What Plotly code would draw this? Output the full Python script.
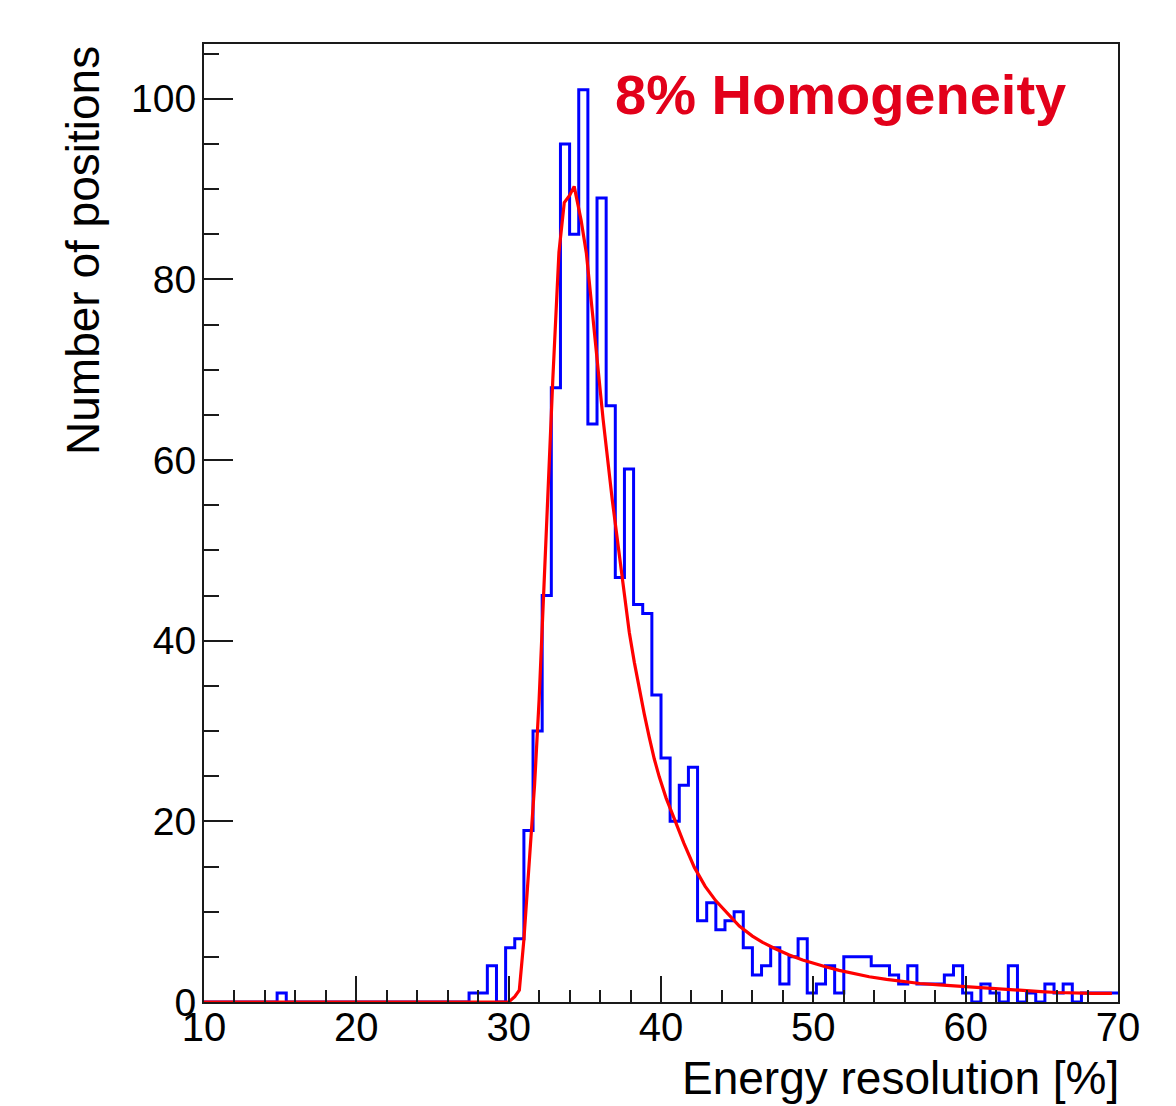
import numpy as np
import plotly.graph_objects as go

# ---------------- data ----------------
BIN_LOW = 10.0
BIN_WIDTH = 0.6
counts = [
    0, 0, 0, 0, 0, 0, 0, 0, 1, 0,          # 10.0 - 16.0
    0, 0, 0, 0, 0, 0, 0, 0, 0, 0,          # 16.0 - 22.0
    0, 0, 0, 0, 0, 0, 0, 0, 0, 1,          # 22.0 - 28.0
    1, 4, 0, 6, 7, 19, 30, 45, 68, 95,     # 28.0 - 34.0
    85, 101, 64, 89, 66, 47, 59, 44, 43, 34,  # 34.0 - 40.0
    27, 20, 24, 26, 9, 11, 8, 9, 10, 6,    # 40.0 - 46.0
    3, 4, 6, 2, 5, 7, 1, 2, 4, 1,          # 46.0 - 52.0
    5, 5, 5, 4, 4, 3, 2, 4, 2, 2,          # 52.0 - 58.0
    2, 3, 4, 1, 0, 2, 1, 0, 4, 0,          # 58.0 - 64.0
    1, 0, 2, 1, 2, 0, 1, 1, 1, 1,          # 64.0 - 70.0
]

fit_x = [10.0, 30.0, 30.4, 30.7, 31.0, 31.35, 31.7, 32.0, 32.35, 32.7,
         32.9, 33.3, 33.65, 34.0, 34.3, 34.75, 35.1, 35.5, 35.95, 36.2,
         36.8, 37.27, 37.6, 37.92, 38.25, 38.58, 38.9, 39.23, 39.56, 39.89,
         40.33, 40.87, 41.5, 42.19, 42.9, 43.6, 44.3, 45.14, 46.0, 46.67,
         47.5, 48.42, 49.3, 49.95, 50.8, 51.7, 52.7, 53.67, 54.8, 56.0,
         57.0, 58.26, 59.5, 60.9, 62.0, 62.74, 64.0, 64.93, 66.0, 67.1,
         68.3, 69.6]
fit_y = [0.0, 0.0, 0.6, 1.3, 6.9, 15.0, 24.0, 33.5, 47.5, 62.0,
         69.0, 83.0, 88.5, 89.3, 90.3, 86.6, 82.9, 76.3, 68.9, 64.5,
         55.6, 49.2, 44.8, 40.9, 37.6, 34.6, 31.9, 29.3, 26.9, 24.9,
         22.6, 20.3, 17.6, 14.9, 12.8, 11.2, 9.9, 8.4, 7.3, 6.6,
         5.9, 5.2, 4.65, 4.3, 3.9, 3.5, 3.1, 2.8, 2.5, 2.25,
         2.05, 1.9, 1.75, 1.6, 1.45, 1.33, 1.22, 1.15, 1.05, 0.98,
         0.96, 0.95]

x_ticks = [10, 20, 30, 40, 50, 60, 70]
y_ticks = [0, 20, 40, 60, 80, 100]

title_text = "8% Homogeneity"
x_title = "Energy resolution [%]"
y_title = "Number of positions"

# ---------------- figure ----------------
edges = BIN_LOW + BIN_WIDTH * np.arange(len(counts) + 1)
step_y = list(counts) + [counts[-1]]

FONT = "Liberation Sans, Arial, Helvetica, sans-serif"
AXIS_COLOR = "#1a1a1a"

fig = go.Figure()
fig.add_trace(go.Scatter(
    x=edges, y=step_y, mode="lines", line_shape="hv",
    line=dict(color="#0000ff", width=3), hoverinfo="skip", showlegend=False,
))
fig.add_trace(go.Scatter(
    x=fit_x, y=fit_y, mode="lines",
    line=dict(color="#ff0000", width=3.2), hoverinfo="skip", showlegend=False,
))

# the page body adds an 8px offset, so the figure is sized to fit the window
fig.update_layout(
    width=1168, height=1098,
    margin=dict(l=196, r=58, t=36, b=104, pad=0),
    paper_bgcolor="white", plot_bgcolor="white",
    font=dict(family=FONT, color="black"),
    showlegend=False,
)

fig.update_xaxes(
    range=[10, 70], tickvals=x_ticks, ticktext=[str(v) for v in x_ticks],
    showgrid=False, zeroline=False,
    showline=True, linecolor=AXIS_COLOR, linewidth=2, mirror=True,
    ticks="inside", ticklen=26, tickwidth=2, tickcolor=AXIS_COLOR,
    minor=dict(dtick=2, tick0=10, ticks="inside", ticklen=12, tickwidth=2,
               tickcolor=AXIS_COLOR, showgrid=False),
    tickfont=dict(size=40, family=FONT, color="black"),
    ticklabelstandoff=-11,
)
fig.update_yaxes(
    range=[0, 106.06], tickvals=y_ticks, ticktext=[str(v) for v in y_ticks],
    showgrid=False, zeroline=False,
    showline=True, linecolor=AXIS_COLOR, linewidth=2, mirror=True,
    ticks="inside", ticklen=29, tickwidth=2, tickcolor=AXIS_COLOR,
    minor=dict(dtick=5, tick0=0, ticks="inside", ticklen=15, tickwidth=2,
               tickcolor=AXIS_COLOR, showgrid=False),
    tickfont=dict(size=39, family=FONT, color="black"),
    ticklabelstandoff=-2,
)

# chart title (red, bold, in the top right of the frame)
fig.add_annotation(
    text="<b>" + title_text + "</b>", xref="paper", yref="paper",
    x=0.448, y=0.947, xanchor="left", yanchor="middle", showarrow=False,
    font=dict(size=56, family=FONT, color="#e2001a"),
)
# x axis title, right aligned
fig.add_annotation(
    text=x_title, xref="paper", yref="paper",
    x=1.003, y=-0.079, xanchor="right", yanchor="middle", showarrow=False,
    font=dict(size=46, family=FONT, color="black"),
)
# y axis title, rotated, aligned to the top
fig.add_annotation(
    text=y_title, xref="paper", yref="paper", textangle=-90,
    x=-0.133, y=1.0, xanchor="center", yanchor="top", showarrow=False,
    font=dict(size=46, family=FONT, color="black"),
)

fig.write_html("out.html")
